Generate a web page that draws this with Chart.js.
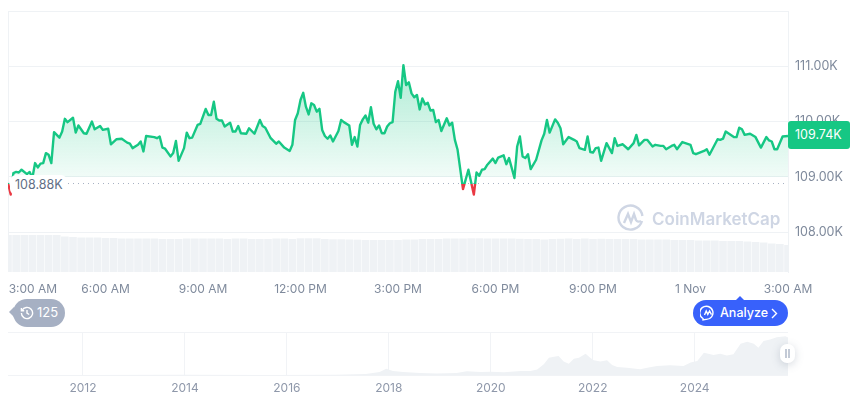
<!DOCTYPE html>
<html>
<head>
<meta charset="utf-8">
<title>Price chart</title>
<script src="https://cdn.jsdelivr.net/npm/chart.js@4/dist/chart.umd.js"></script>
<style>
  html, body { margin: 0; background: #fff; overflow: hidden; }
  #wrap { position: relative; width: 860px; height: 401px; font-family: Inter, sans-serif; }
  canvas { position: absolute; left: 0; top: 0; }
  .over { position: absolute; white-space: nowrap; }
  #baseLabel { left: 10px; top: 175px; width: 57px; height: 20px; line-height: 20px; background: #fff; border-radius: 6px; color: #616e85; font-size: 12.5px; text-indent: 5px; }
  #lastTag { left: 788px; top: 121px; width: 62px; height: 28px; line-height: 28px; background: #16c784; border-radius: 3px; color: #fff; font-size: 12.5px; text-indent: 7px; }
  #mark { left: 652px; top: 207px; font-size: 17px; line-height: 24px; font-weight: 600; color: #cfd6e4; }
  #history { left: 13px; top: 299px; width: 52px; height: 28px; line-height: 27px; background: #a6b0c3; border-radius: 14px; color: #fff; font-size: 13px; text-indent: 24px; }
  #historyTip { left: 9px; top: 307px; width: 0; height: 0; border: 5px solid transparent; border-left: 0; border-right: 5px solid #a6b0c3; }
  #analyze { left: 693px; top: 300px; width: 95px; height: 26px; line-height: 26px; background: #3861fb; border-radius: 13px; color: #fff; font-size: 12.5px; font-weight: 500; text-indent: 27px; }
  #analyzeTip { left: 736px; top: 296px; width: 0; height: 0; border: 4px solid transparent; border-top: 0; border-bottom: 4px solid #3861fb; }
  #handle { left: 780px; top: 344px; width: 15px; height: 19px; background: #fff; border-radius: 7px; box-shadow: 0 2px 8px rgba(88,102,126,.25); }
  #handle i { position: absolute; top: 5px; width: 2px; height: 9px; background: #c3cad6; }
</style>
</head>
<body>
<div id="wrap">
  <canvas id="priceChart" width="860" height="401"></canvas>
  <canvas id="historyChart" width="860" height="401"></canvas>

  <svg class="over" style="left:617px;top:204px" width="28" height="28" viewBox="0 0 28 28" fill="none" stroke="#cfd6e4" stroke-width="2.4">
    <path d="M25 17A12 12 0 1 1 25.4 12"/>
    <path d="M7 19l4-9 3 8 3-8 2 6c1 2 3 2 5 1"/>
  </svg>
  <div class="over" id="mark">CoinMarketCap</div>
  <div class="over" id="baseLabel">108.88K</div>
  <div class="over" id="lastTag">109.74K</div>

  <div class="over" id="historyTip"></div>
  <div class="over" id="history">125</div>
  <svg class="over" style="left:20px;top:306px" width="14" height="14" viewBox="0 0 14 14" fill="none" stroke="#fff" stroke-width="1.4">
    <path d="M2 4.5A5.6 5.6 0 1 1 1.4 7"/><path d="M7 4v3.2l2.2 1.3"/><path d="M1.4 2v2.8h2.8"/>
  </svg>

  <div class="over" id="analyzeTip"></div>
  <div class="over" id="analyze">Analyze</div>
  <svg class="over" style="left:700px;top:305px" width="16" height="16" viewBox="0 0 16 16" fill="none" stroke="#fff" stroke-width="1.4">
    <path d="M3 13.5A6.6 6.6 0 1 1 6 14.4L3 15z"/><path d="M4.5 10l1.7-4 1.6 3.4L9.6 6l1.9 3.6"/>
  </svg>
  <svg class="over" style="left:770px;top:308px" width="8" height="11" viewBox="0 0 8 11" fill="none" stroke="#fff" stroke-width="1.4">
    <path d="M2 1l4.5 4.5L2 10"/>
  </svg>

  <div class="over" id="handle"><i style="left:5px"></i><i style="left:8px"></i></div>
</div>

<script>
// minutes after 3:00 AM, one entry per vertex of the price line
const minutes = [
  0,5,10,15,20,25,35,40,45,50,
  55,60,65,70,75,80,85,95,100,105,
  110,120,125,130,140,145,155,160,170,175,
  185,190,200,210,220,225,230,240,245,250,
  255,270,275,280,285,290,300,305,310,315,
  325,330,335,340,350,355,365,370,375,380,
  385,390,395,400,410,415,420,425,430,440,
  445,455,465,470,475,485,495,500,510,520,
  525,530,535,540,545,550,555,560,565,570,
  575,580,585,590,595,600,610,615,620,630,
  635,640,645,650,655,660,665,670,675,680,
  685,690,695,700,705,710,715,720,725,730,
  735,740,745,750,755,760,765,770,775,780,
  785,790,795,800,810,815,820,825,830,840,
  850,860,865,870,875,880,885,895,900,905,
  915,920,925,935,940,945,950,955,960,965,
  975,985,990,995,1000,1010,1015,1020,1025,1035,
  1045,1050,1055,1065,1070,1075,1080,1085,1090,1095,
  1105,1115,1120,1125,1135,1145,1155,1160,1165,1175,
  1180,1190,1195,1205,1210,1215,1225,1230,1235,1245,
  1260,1265,1270,1285,1290,1295,1310,1315,1320,1325,
  1340,1345,1350,1355,1360,1370,1380,1390,1400,1405,
  1410,1415,1420,1430,1440
];
// price in thousands, same order as minutes
const prices = [
  108.89,108.68,109.07,109.09,109.08,109.13,109.05,109.09,108.98,109.25,
  109.17,109.24,109.25,109.43,109.40,109.25,109.81,109.71,109.82,110.05,
  109.99,110.07,109.80,109.93,109.79,109.78,110.00,109.86,109.92,109.85,
  109.87,109.59,109.68,109.69,109.62,109.60,109.52,109.58,109.64,109.46,
  109.74,109.72,109.70,109.73,109.53,109.51,109.37,109.43,109.65,109.29,
  109.52,109.80,109.70,109.71,109.94,109.96,110.23,110.12,110.12,110.36,
  110.05,110.02,110.02,109.91,109.98,109.82,109.82,109.92,109.79,109.78,
  109.88,109.78,110.03,109.92,109.89,109.70,109.60,109.64,109.53,109.47,
  109.58,110.03,110.15,110.39,110.52,110.27,110.13,110.33,110.30,110.18,
  110.23,109.85,109.74,109.69,109.75,109.64,109.83,110.03,109.99,109.93,
  109.58,109.72,109.55,109.94,110.04,110.11,109.98,110.26,109.96,109.86,
  109.93,109.79,109.79,109.91,109.97,109.99,110.54,110.73,110.43,111.02,
  110.66,110.71,110.51,110.44,110.48,110.22,110.42,110.31,110.34,110.20,
  110.21,109.99,110.03,109.83,110.06,109.93,109.98,109.67,109.49,108.78,
  109.13,108.68,109.08,109.02,109.13,109.14,109.22,109.33,109.25,109.35,
  109.39,109.23,109.34,108.98,109.55,109.73,109.37,109.34,109.41,109.14,
  109.31,109.66,109.78,110.03,109.80,110.04,109.98,109.88,109.59,109.72,
  109.67,109.64,109.52,109.49,109.73,109.45,109.44,109.52,109.53,109.29,
  109.61,109.43,109.70,109.56,109.59,109.50,109.61,109.76,109.57,109.67,
  109.67,109.55,109.58,109.56,109.56,109.50,109.56,109.58,109.50,109.63,
  109.58,109.43,109.41,109.47,109.50,109.40,109.68,109.67,109.69,109.82,
  109.72,109.72,109.89,109.86,109.76,109.78,109.72,109.53,109.72,109.66,
  109.64,109.50,109.50,109.73,109.74
];
const openPrice = 108.88;
const fillFloor = 109;

// volume bars, one every 15 minutes
const volumes = [
  37,37,37,37,37,37,37,35.5,35,34.5,34.5,34.5,34,34,33.5,33.5,33.5,33.5,33.5,33,
  33,33,33.5,33.5,33.5,33.5,33.5,33,33.5,33.5,33,33,33,33.5,33.5,33,33.7,33.7,33.7,33,
  32.7,32.7,32.5,32.3,32,32,32,32,32,32.5,32.5,33,33,33,33.5,33.5,33.5,33.7,33.7,33.5,
  33.5,33.5,33.5,33.2,33,33,32.5,33,33.2,33.5,33,33.5,33,33.2,33,33,33,33,32.5,32.5,
  32.5,32.5,32,32,32,31.5,31.5,31.5,31,31,31,30.5,30,29.5,28.5,28,27
];
const volumeMinutes = volumes.map((v, i) => i * 15);

const yTicks = [108, 109, 110, 111, 112];
const xTicks = [46, 180, 360, 540, 720, 900, 1080, 1260, 1440];
const xLabels = ['3:00 AM', '6:00 AM', '9:00 AM', '12:00 PM', '3:00 PM', '6:00 PM', '9:00 PM', '1 Nov', '3:00 AM'];

// long range strip at the bottom
const historyYears = [
  2010.53,2012,2014,2015.64,2016.96,2017.55,2017.82,2017.95,2018.08,2018.28,
  2018.61,2018.94,2019.33,2019.53,2019.8,2020,2020.26,2020.59,2020.78,2020.91,
  2021.04,2021.14,2021.24,2021.33,2021.43,2021.53,2021.63,2021.73,2021.86,2021.95,
  2022.02,2022.15,2022.28,2022.38,2022.48,2022.67,2022.93,2023.07,2023.26,2023.52,
  2023.78,2023.92,2024.05,2024.18,2024.37,2024.5,2024.63,2024.76,2024.9,2025.03,
  2025.16,2025.25,2025.35,2025.48,2025.61,2025.78,2025.84
];
const historyPrices = [
  0.01,0.05,0.6,0.3,1,3,9,18,11.6,8.7,
  6,4,6,10.6,8.7,9.7,7.7,11.6,11.6,16,
  31,50,53,55,39,33,47,50,62,50,
  43,39,43,29,23,21,17,21,26,28,
  26,36,41,65,58,62,57,60,91,97,
  91,79,99,103,110,113,108
];
const historyTicks = [2012, 2014, 2016, 2018, 2020, 2022, 2024];

const gridColor = '#eff2f5';
const green = '#16c784';
const red = '#ea3943';
const tickFont = { family: 'Inter', size: 12 };

// hard colour change where the line crosses the opening price
function lineColor(context) {
  const chart = context.chart;
  if (!chart.chartArea) return green;
  const area = chart.chartArea;
  const stop = (chart.scales.y.getPixelForValue(openPrice) - area.top) / (area.bottom - area.top);
  const g = chart.ctx.createLinearGradient(0, area.top, 0, area.bottom);
  g.addColorStop(0, green);
  g.addColorStop(stop, green);
  g.addColorStop(stop, red);
  g.addColorStop(1, red);
  return g;
}

function fillColor(chart) {
  if (!chart.chartArea) return 'rgba(22,199,132,0.1)';
  const g = chart.ctx.createLinearGradient(0, chart.scales.y.getPixelForValue(111), 0, chart.scales.y.getPixelForValue(fillFloor));
  g.addColorStop(0, 'rgba(22,199,132,0.34)');
  g.addColorStop(1, 'rgba(22,199,132,0.06)');
  return g;
}

const leftEdge = {
  id: 'leftEdge',
  beforeDatasetsDraw(chart) {
    const { ctx, chartArea } = chart;
    ctx.save();
    ctx.strokeStyle = gridColor;
    ctx.beginPath();
    ctx.moveTo(chartArea.left + 0.5, chartArea.top);
    ctx.lineTo(chartArea.left + 0.5, chartArea.bottom);
    ctx.stroke();
    ctx.restore();
  }
};

const priceData = {
  datasets: [
    {
      type: 'line',
      data: minutes.map((m, i) => ({ x: m, y: prices[i] })),
      borderColor: lineColor,
      borderWidth: 2.4,
      borderJoinStyle: 'round',
      pointRadius: 0,
      tension: 0,
      order: 1,
      fill: { target: { value: fillFloor }, above: (c) => fillColor(c.chart), below: 'transparent' }
    },
    {
      type: 'line',
      data: [{ x: 0, y: openPrice }, { x: 1440, y: openPrice }],
      borderColor: '#a6b0c3',
      borderWidth: 1,
      borderDash: [1, 4],
      pointRadius: 0,
      order: 2
    },
    {
      type: 'bar',
      data: volumeMinutes.map((m, i) => ({ x: m, y: volumes[i] })),
      yAxisID: 'yVolume',
      backgroundColor: '#eff2f5',
      barPercentage: 0.94,
      categoryPercentage: 1,
      order: 3
    }
  ]
};

new Chart(document.getElementById('priceChart'), {
  data: priceData,
  plugins: [leftEdge],
  options: {
    responsive: false,
    animation: false,
    layout: { padding: { left: 8, top: 11 } },
    plugins: { legend: { display: false }, tooltip: { enabled: false } },
    scales: {
      x: {
        type: 'linear',
        offset: false,
        min: 0,
        max: 1440,
        grid: { display: false },
        border: { display: false },
        afterBuildTicks: (axis) => { axis.ticks = xTicks.map((v) => ({ value: v })); },
        afterFit: (axis) => { axis.height = 129; },
        ticks: {
          autoSkip: false,
          maxRotation: 0,
          padding: 2,
          color: '#7f8a9c',
          font: tickFont,
          callback: (v, i) => xLabels[i]
        }
      },
      y: {
        type: 'linear',
        position: 'right',
        min: 107.28,
        max: 112,
        grid: { color: gridColor, drawTicks: false },
        border: { color: gridColor },
        afterBuildTicks: (axis) => { axis.ticks = yTicks.map((v) => ({ value: v })); },
        afterFit: (axis) => { axis.width = 72; axis.paddingTop = 0; axis.paddingBottom = 0; },
        ticks: {
          padding: 7,
          color: '#7f8a9c',
          font: { family: 'Inter', size: 12.5 },
          callback: (v) => (v === 112 ? '' : v.toFixed(2) + 'K')
        }
      },
      yVolume: { display: false, min: 0, max: 261 }
    }
  }
});

new Chart(document.getElementById('historyChart'), {
  type: 'line',
  data: {
    datasets: [{
      data: historyYears.map((y, i) => ({ x: y, y: historyPrices[i] })),
      borderWidth: 0,
      pointRadius: 0,
      tension: 0,
      backgroundColor: '#eff2f5',
      fill: 'origin'
    }]
  },
  options: {
    responsive: false,
    animation: false,
    layout: { padding: { left: 8, right: 72, top: 332 } },
    plugins: { legend: { display: false }, tooltip: { enabled: false } },
    scales: {
      x: {
        type: 'linear',
        min: 2010.53,
        max: 2025.83,
        grid: { color: '#f1f3f6', drawTicks: false },
        border: { display: false },
        afterBuildTicks: (axis) => { axis.ticks = historyTicks.map((v) => ({ value: v })); },
        afterFit: (axis) => { axis.height = 26; },
        ticks: {
          autoSkip: false,
          maxRotation: 0,
          padding: 6,
          color: '#8f98aa',
          font: tickFont,
          callback: (v) => String(v)
        }
      },
      y: {
        min: 0,
        max: 125,
        grid: { color: '#f1f3f6', drawTicks: false },
        border: { display: false },
        afterBuildTicks: (axis) => { axis.ticks = [{ value: 0 }, { value: 125 }]; },
        afterFit: (axis) => { axis.width = 0; },
        ticks: { display: false }
      }
    }
  }
});
</script>
</body>
</html>
